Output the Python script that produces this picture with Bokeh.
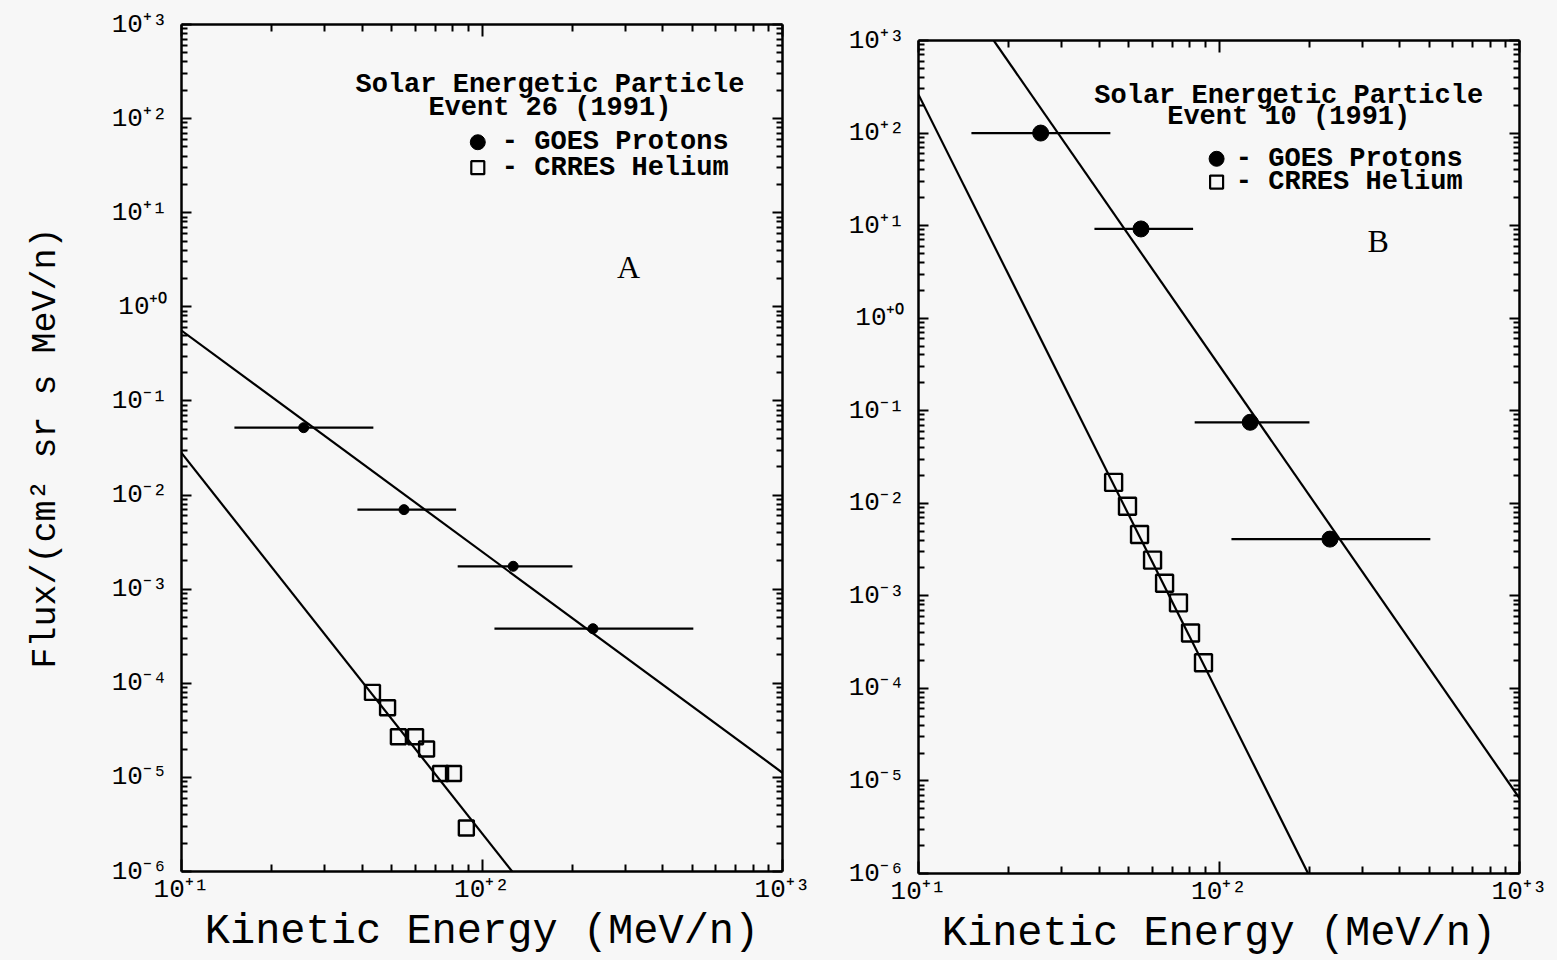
from bokeh.plotting import figure
from bokeh.models import (Range1d, FixedTicker, CustomJSTickFormatter, LogAxis,
                          Label, ColumnDataSource, Spacer)
from bokeh.layouts import row, column
from bokeh.embed import file_html
from bokeh.resources import INLINE

# ---------------------------------------------------------------------------
# Data
# ---------------------------------------------------------------------------
# GOES proton channels (MeV/n): nominal energy and channel edges
goes_energy = [25.5, 55.0, 127.0, 234.0]
goes_e_low = [15.0, 38.5, 83.0, 110.0]
goes_e_high = [43.5, 82.0, 200.0, 505.0]

# Event 26 (1991)
ev26_goes_flux = [5.2e-2, 7.0e-3, 1.75e-3, 3.8e-4]
ev26_crres_energy = [43.2, 48.5, 52.7, 60.1, 65.4, 72.8, 80.4, 88.7]
ev26_crres_flux = [8.0e-5, 5.5e-5, 2.7e-5, 2.7e-5, 2.0e-5, 1.1e-5, 1.1e-5, 2.9e-6]
ev26_proton_fit_energy = [10.0, 1000.0]
ev26_proton_fit_flux = [0.56, 1.12e-5]
ev26_helium_fit_energy = [10.0, 126.0]
ev26_helium_fit_flux = [2.8e-2, 1.0e-6]

# Event 10 (1991)
ev10_goes_flux = [100.0, 9.2, 7.5e-2, 4.1e-3]
ev10_crres_energy = [44.6, 49.6, 54.4, 60.1, 65.9, 73.3, 80.4, 88.8]
ev10_crres_flux = [1.68e-2, 9.3e-3, 4.6e-3, 2.43e-3, 1.37e-3, 8.4e-4, 3.97e-4, 1.89e-4]
ev10_proton_fit_energy = [17.8, 1000.0]
ev10_proton_fit_flux = [1000.0, 6.5e-6]
ev10_helium_fit_energy = [10.0, 198.0]
ev10_helium_fit_flux = [260.0, 1.0e-6]

# decade exponents carrying tick labels
x_decades = [1, 2, 3]
y_decades = [3, 2, 1, 0, -1, -2, -3, -4, -5, -6]

# ---------------------------------------------------------------------------
# Styling helpers
# ---------------------------------------------------------------------------
BG = "#f7f7f7"
MONO = "Liberation Mono"
SERIF = "Liberation Serif"

x_major = [10.0 ** k for k in x_decades]
y_major = [10.0 ** k for k in y_decades]
x_minor = [m * 10.0 ** k for k in x_decades[:-1] for m in range(2, 10)]
y_minor = [m * 10.0 ** k for k in range(-6, 3) for m in range(2, 10)]

# "10" followed by a signed superscript exponent, e.g. 10⁺³, 10⁻⁶
POWER_JS = """
const sup = {'0':'\u2070','1':'\u00b9','2':'\u00b2','3':'\u00b3','4':'\u2074',
             '5':'\u2075','6':'\u2076','7':'\u2077','8':'\u2078','9':'\u2079',
             '+':'\u207a','-':'\u207b'};
const e = Math.round(Math.log10(tick));
const s = (e >= 0 ? '+' : '-') + Math.abs(e);
return '10' + s.split('').map(c => sup[c]).join('');
"""


def style_axis(ax, major_in, minor_in, show_labels=True):
    ax.axis_line_width = 2.5
    ax.axis_line_color = "black"
    ax.major_tick_in = major_in
    ax.major_tick_out = 0
    ax.minor_tick_in = minor_in
    ax.minor_tick_out = 0
    ax.major_tick_line_width = 2
    ax.minor_tick_line_width = 2
    ax.major_tick_line_color = "black"
    ax.minor_tick_line_color = "black"
    if show_labels:
        ax.formatter = CustomJSTickFormatter(code=POWER_JS)
        ax.major_label_text_font = MONO
        ax.major_label_text_font_size = "26px"
        ax.major_label_text_color = "black"
    else:
        ax.formatter = CustomJSTickFormatter(code="return '';")
        ax.major_label_text_font_size = "0px"
        ax.major_label_standoff = 0
        ax.axis_label_standoff = 0


def make_panel(frame_h, border_left, border_right, border_top, border_bottom, ylabel):
    p = figure(x_axis_type="log", y_axis_type="log", title=None,
               x_range=Range1d(10, 1000), y_range=Range1d(1e-6, 1e3),
               frame_width=601, frame_height=frame_h,
               width=border_left + 601 + border_right,
               height=border_top + frame_h + border_bottom,
               min_border_left=border_left, min_border_right=border_right,
               min_border_top=border_top, min_border_bottom=border_bottom,
               output_backend="svg", toolbar_location=None,
               background_fill_color=BG, border_fill_color=BG)
    p.grid.visible = False
    p.outline_line_color = None

    p.xaxis.ticker = FixedTicker(ticks=x_major, minor_ticks=x_minor)
    p.yaxis.ticker = FixedTicker(ticks=y_major, minor_ticks=y_minor)
    style_axis(p.xaxis[0], 12, 7)
    style_axis(p.yaxis[0], 10, 6)
    p.xaxis.major_label_standoff = 3
    p.yaxis.major_label_standoff = 14

    p.xaxis.axis_label = "Kinetic Energy (MeV/n)"
    p.xaxis.axis_label_text_font = MONO
    p.xaxis.axis_label_text_font_style = "normal"
    p.xaxis.axis_label_text_font_size = "42px"
    p.xaxis.axis_label_standoff = 0
    p.xaxis.axis_label_text_color = "black"

    if ylabel:
        p.yaxis.axis_label = ylabel
        p.yaxis.axis_label_text_font = MONO
        p.yaxis.axis_label_text_font_style = "normal"
        p.yaxis.axis_label_text_font_size = "35px"
        p.yaxis.axis_label_standoff = 43
        p.yaxis.axis_label_text_color = "black"

    top = LogAxis(ticker=FixedTicker(ticks=x_major, minor_ticks=x_minor))
    right = LogAxis(ticker=FixedTicker(ticks=y_major, minor_ticks=y_minor))
    style_axis(top, 12, 7, show_labels=False)
    style_axis(right, 10, 6, show_labels=False)
    p.add_layout(top, "above")
    p.add_layout(right, "right")
    return p


def at(frac_x, frac_y):
    """Convert a fractional position inside the frame to log-data coordinates."""
    return 10 ** (1 + 2 * frac_x), 10 ** (-6 + 9 * frac_y)


def draw_event(p, goes_flux, crres_energy, crres_flux,
               pfit_e, pfit_f, hfit_e, hfit_f,
               dot_size, sq_size, event_text, panel_letter, pos):
    # power-law fits
    p.line(pfit_e, pfit_f, line_color="black", line_width=2.2)
    p.line(hfit_e, hfit_f, line_color="black", line_width=2.2)

    # GOES protons with energy-channel bars
    src = ColumnDataSource(dict(e=goes_energy, lo=goes_e_low, hi=goes_e_high, f=goes_flux))
    p.segment(x0="lo", x1="hi", y0="f", y1="f", source=src,
              line_color="black", line_width=2.2)
    p.scatter(x="e", y="f", source=src, marker="circle", size=dot_size,
              fill_color="black", line_color="black")

    # CRRES helium
    p.scatter(crres_energy, crres_flux, marker="square", size=sq_size,
              fill_color=None, line_color="black", line_width=2.4)

    # key / caption
    tx, l1y, l2y, symx, txt_x, r1y, r2y, lx, ly = pos
    for text, fy in (("Solar Energetic Particle", l1y), (event_text, l2y)):
        x, y = at(tx, fy)
        p.add_layout(Label(x=x, y=y, text=text, text_font=MONO, text_font_style="bold",
                           text_font_size="27px", text_align="center",
                           text_baseline="middle", text_color="black"))
    sx, sy1 = at(symx, r1y)
    _, sy2 = at(symx, r2y)
    p.scatter([sx], [sy1], marker="circle", size=15, fill_color="black", line_color="black")
    p.scatter([sx], [sy2], marker="square", size=13, fill_color=None,
              line_color="black", line_width=2.2)
    for text, fy in (("- GOES Protons", r1y), ("- CRRES Helium", r2y)):
        x, y = at(txt_x, fy)
        p.add_layout(Label(x=x, y=y, text=text, text_font=MONO, text_font_style="bold",
                           text_font_size="27px", text_align="left",
                           text_baseline="middle", text_color="black"))
    x, y = at(lx, ly)
    p.add_layout(Label(x=x, y=y, text=panel_letter, text_font=SERIF,
                       text_font_size="32px", text_align="center",
                       text_baseline="middle", text_color="black"))


# Panel A: Event 26
pa = make_panel(847, 181, 36, 24, 89, "Flux/(cm\u00b2 sr s MeV/n)")
draw_event(pa, ev26_goes_flux, ev26_crres_energy, ev26_crres_flux,
           ev26_proton_fit_energy, ev26_proton_fit_flux,
           ev26_helium_fit_energy, ev26_helium_fit_flux,
           10, 15, "Event 26 (1991)", "A",
           (0.613, 0.929, 0.902, 0.493, 0.533, 0.861, 0.831, 0.744, 0.714))

# Panel B: Event 10 (sits 16 px lower than panel A)
pb = make_panel(833, 100, 38, 24, 87, None)
draw_event(pb, ev10_goes_flux, ev10_crres_energy, ev10_crres_flux,
           ev10_proton_fit_energy, ev10_proton_fit_flux,
           ev10_helium_fit_energy, ev10_helium_fit_flux,
           16, 17, "Event 10 (1991)", "B",
           (0.616, 0.933, 0.908, 0.496, 0.528, 0.858, 0.830, 0.765, 0.759))

layout = row(pa, column(Spacer(height=16, width=739), pb), styles={"background-color": BG})
html = file_html(layout, INLINE, title="Solar Energetic Particle spectra")
html = html.replace("<body>", '<body style="margin:0;background:%s">' % BG)
open("out.html", "w").write(html)
